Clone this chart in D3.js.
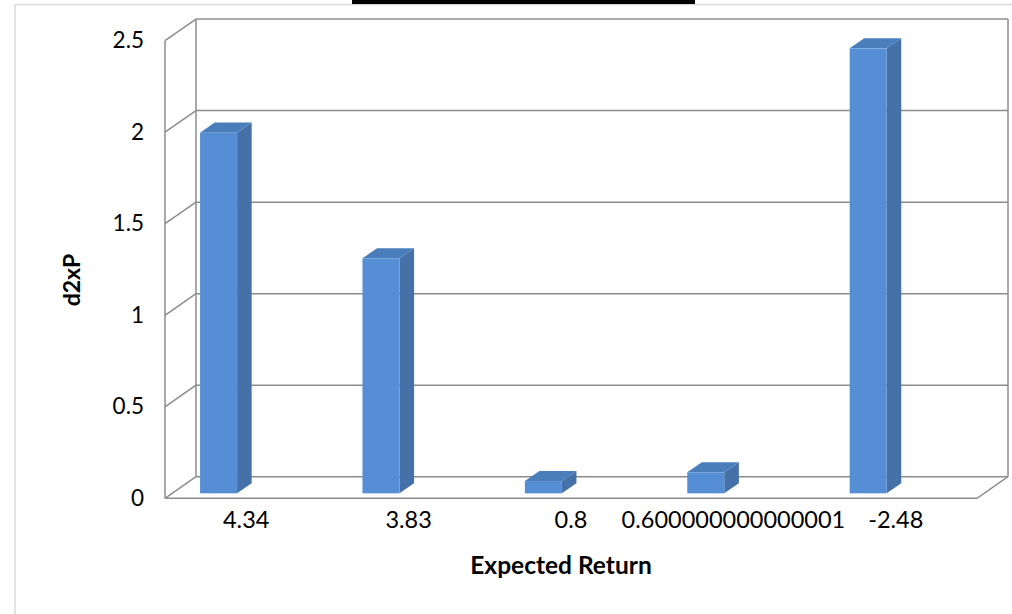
<!DOCTYPE html>
<html>
<head>
<meta charset="utf-8">
<script src="https://cdn.jsdelivr.net/npm/d3@7"></script>
<style>
  body { margin: 0; background: #fff; }
  svg { display: block; font-family: Lato, "Open Sans", sans-serif; }
</style>
</head>
<body>
<script>
// chart data
const categories = ['4.34', '3.83', '0.8', '0.600000000000001', '-2.48'];
const values = [1.97, 1.284, 0.067, 0.115, 2.431];
const yTicks = [0, 0.5, 1, 1.5, 2, 2.5];
const xTitle = 'Expected Return';
const yTitle = 'd2xP';

const width = 1012;
const height = 614;

// 3d box: front plane plus a depth offset
const DEPTH_X = 31;
const DEPTH_Y = -21.6;
const BAR_FRONT = 0.23;   // bar front face, as fraction of depth
const BAR_BACK = 0.70;

const svg = d3.select('body').append('svg')
    .attr('width', width)
    .attr('height', height);

// outer frame (only left/top edges are visible)
svg.append('line').attr('x1', 15).attr('y1', 4.5).attr('x2', width).attr('y2', 4.5)
    .attr('stroke', '#d9d9d9').attr('stroke-width', 1.5);
svg.append('line').attr('x1', 15).attr('y1', 4.5).attr('x2', 15).attr('y2', height)
    .attr('stroke', '#d9d9d9').attr('stroke-width', 1.5);
svg.append('rect').attr('x', 352).attr('y', 0).attr('width', 343).attr('height', 4).attr('fill', '#000');

const x = d3.scaleBand().domain(categories).range([165, 977]);
const y = d3.scaleLinear().domain([0, 2.5]).range([498.3, 40.7]);

const grid = svg.append('g')
    .attr('fill', 'none')
    .attr('stroke', '#8c8c8c')
    .attr('stroke-width', 1.5);

const x0 = x.range()[0];
const x1 = x.range()[1];

// back wall gridlines and side wall diagonals
yTicks.forEach(t => {
    grid.append('line')
        .attr('x1', x0 + DEPTH_X).attr('y1', y(t) + DEPTH_Y)
        .attr('x2', x1 + DEPTH_X).attr('y2', y(t) + DEPTH_Y);
    grid.append('line')
        .attr('x1', x0).attr('y1', y(t))
        .attr('x2', x0 + DEPTH_X).attr('y2', y(t) + DEPTH_Y);
});

// wall edges
grid.append('line')
    .attr('x1', x0).attr('y1', y(0)).attr('x2', x0).attr('y2', y(2.5));
grid.append('line')
    .attr('x1', x0 + DEPTH_X).attr('y1', y(0) + DEPTH_Y).attr('x2', x0 + DEPTH_X).attr('y2', y(2.5) + DEPTH_Y);
grid.append('line')
    .attr('x1', x1 + DEPTH_X).attr('y1', y(0) + DEPTH_Y).attr('x2', x1 + DEPTH_X).attr('y2', y(2.5) + DEPTH_Y);

// floor
grid.append('path')
    .attr('d', `M${x0},${y(0)}L${x1},${y(0)}L${x1 + DEPTH_X},${y(0) + DEPTH_Y}`);

// bars
const barLeft = c => x(c) + x.bandwidth() * 0.172;
const barW = x.bandwidth() * 0.228;
const fx = BAR_FRONT * DEPTH_X, fy = BAR_FRONT * DEPTH_Y;
const bx = BAR_BACK * DEPTH_X, by = BAR_BACK * DEPTH_Y;

const bars = svg.append('g').selectAll('g')
    .data(categories.map((c, i) => ({ c, v: values[i] })))
    .join('g');

bars.append('path')   // side
    .attr('fill', '#4571a8')
    .attr('d', d => {
        const l = barLeft(d.c) + barW;
        return `M${l + fx},${y(0) + fy}L${l + bx},${y(0) + by}L${l + bx},${y(d.v) + by}L${l + fx},${y(d.v) + fy}Z`;
    });

bars.append('path')   // top
    .attr('fill', '#4a7ebb')
    .attr('d', d => {
        const l = barLeft(d.c);
        return `M${l + fx},${y(d.v) + fy}L${l + bx},${y(d.v) + by}L${l + barW + bx},${y(d.v) + by}L${l + barW + fx},${y(d.v) + fy}Z`;
    });

bars.append('rect')   // front
    .attr('fill', '#558ed5')
    .attr('x', d => barLeft(d.c) + fx)
    .attr('y', d => y(d.v) + fy)
    .attr('width', barW)
    .attr('height', d => y(0) - y(d.v));

// axes text
svg.append('g').selectAll('text')
    .data(yTicks)
    .join('text')
    .attr('x', 144)
    .attr('y', d => y(d) + 2)
    .attr('text-anchor', 'end')
    .attr('dominant-baseline', 'middle')
    .attr('font-size', 22.5)
    .attr('fill', '#000')
    .text(d => d);

svg.append('g').selectAll('text')
    .data(categories)
    .join('text')
    .attr('x', d => x(d) + x.bandwidth() / 2)
    .attr('y', 528)
    .attr('text-anchor', 'middle')
    .attr('font-size', 23.5)
    .attr('fill', '#000')
    .text(d => d);

svg.append('text')
    .attr('x', 561)
    .attr('y', 574)
    .attr('text-anchor', 'middle')
    .attr('font-size', 24.5)
    .attr('font-weight', 'bold')
    .text(xTitle);

svg.append('text')
    .attr('transform', 'translate(80,280) rotate(-90)')
    .attr('text-anchor', 'middle')
    .attr('font-size', 23)
    .attr('font-weight', 'bold')
    .text(yTitle);
</script>
</body>
</html>
